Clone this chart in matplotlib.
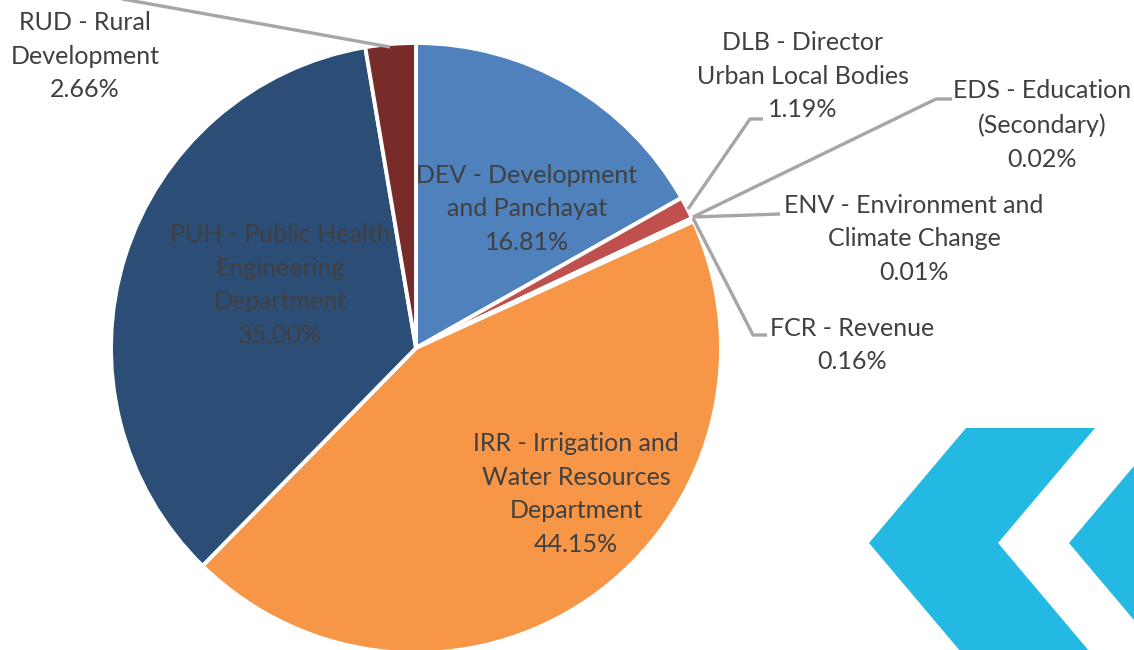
import matplotlib.pyplot as plt
from matplotlib.patches import Polygon

# departments, clockwise from 12 o'clock
codes = ["DEV", "DLB", "EDS", "ENV", "FCR", "IRR", "PUH", "RUD"]
names = [
    "DEV - Development\nand Panchayat",
    "DLB - Director\nUrban Local Bodies",
    "EDS - Education\n(Secondary)",
    "ENV - Environment and\nClimate Change",
    "FCR - Revenue",
    "IRR - Irrigation and\nWater Resources\nDepartment",
    "PUH - Public Health\nEngineering\nDepartment",
    "RUD - Rural\nDevelopment",
]
shares = [16.81, 1.19, 0.02, 0.01, 0.16, 44.15, 35.00, 2.66]
colors = ["#4F81BD", "#C0504D", "#9BBB59", "#8064A2", "#4BACC6",
          "#F79646", "#2C4D75", "#772C2A"]

TEXT = "#404040"
LEADER = "#A6A6A6"
CHEVRON = "#24B9E3"

W, H = 1134, 650
fig = plt.figure(figsize=(W / 100, H / 100), dpi=100)
ax = fig.add_axes([0, 0, 1, 1])

ax.pie(shares, colors=colors, startangle=90, counterclock=False,
       radius=305, center=(416, H - 348),
       wedgeprops=dict(edgecolor="white", linewidth=2.8))
ax.set_xlim(0, W)
ax.set_ylim(0, H)
ax.set_aspect("equal")
ax.axis("off")

# label anchor = centre of the text block (pixels from top-left)
label_pos = {
    "DEV": (527, 209),
    "DLB": (803, 76),
    "EDS": (1042, 125),
    "ENV": (914, 239),
    "FCR": (852, 345),
    "IRR": (576, 494),
    "PUH": (280, 285),
    "RUD": (85, 56),
}
for code, name, val in zip(codes, names, shares):
    x, y = label_pos[code]
    ax.text(x, H - y, f"{name}\n{val:.2f}%", ha="center", va="center",
            fontsize=18, color=TEXT, family=["Lato", "DejaVu Sans"],
            linespacing=1.56)

# leader lines (pixel coords)
leaders = [
    [(100, -5), (390, 47)],
    [(688, 209), (750, 119), (763, 119)],
    [(693, 217), (936, 99), (952, 99)],
    [(693, 217), (780, 214)],
    [(693, 218), (753, 335), (767, 335)],
]
for pts in leaders:
    ax.plot([p[0] for p in pts], [H - p[1] for p in pts],
            color=LEADER, lw=2.4, solid_capstyle="butt", clip_on=False)

# decorative chevrons, bottom right
chev1 = [(966, 428), (1095, 428), (998, 543), (1095, 658), (966, 658), (869, 543)]
chev2 = [(1166, 428), (1069, 543), (1166, 658), (1300, 658), (1300, 428)]
for poly in (chev1, chev2):
    ax.add_patch(Polygon([(x, H - y) for x, y in poly], closed=True,
                         facecolor=CHEVRON, edgecolor="none"))

fig.savefig("out.png", dpi=100)
